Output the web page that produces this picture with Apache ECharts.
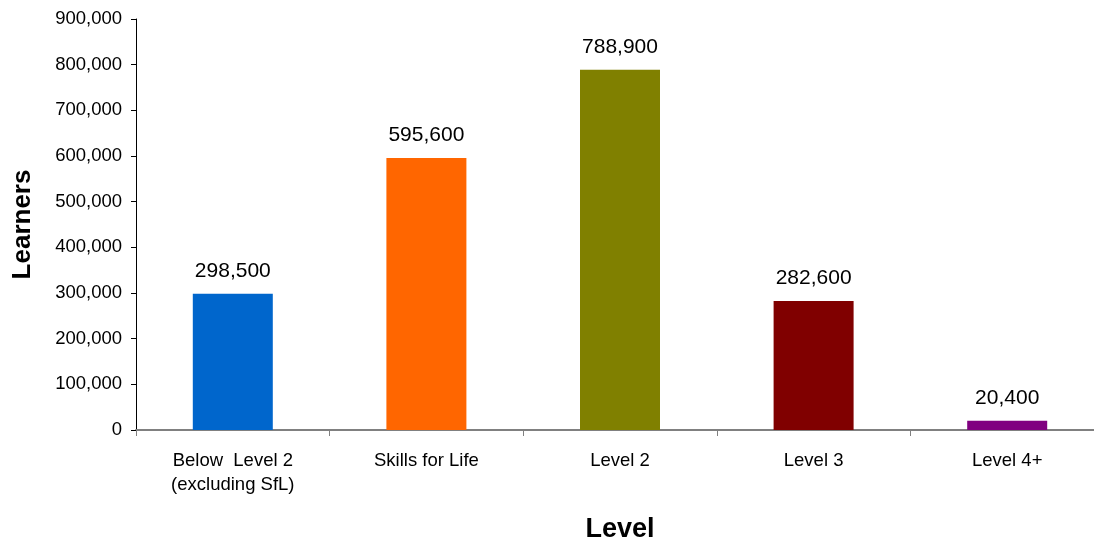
<!DOCTYPE html>
<html>
<head>
<meta charset="utf-8">
<script src="https://cdn.jsdelivr.net/npm/echarts@6/dist/echarts.min.js"></script>
<style>
  html, body { margin: 0; padding: 0; background: #fff; }
  #chart { width: 1094px; height: 542px; }
</style>
</head>
<body>
<div id="chart"></div>
<script>
var categories = ['Below  Level 2\n(excluding SfL)', 'Skills for Life', 'Level 2', 'Level 3', 'Level 4+'];
var learners = [298500, 595600, 788900, 282600, 20400];
var barColors = ['#0066cc', '#ff6600', '#808000', '#800000', '#800080'];

var chart = echarts.init(document.getElementById('chart'));

var fmt = function (v) {
  return String(v).replace(/\B(?=(\d{3})+(?!\d))/g, ',');
};

var option = {
  animation: false,
  textStyle: { fontFamily: 'Liberation Sans, Arial, sans-serif' },
  grid: { left: 136, right: -10, top: 19, bottom: 112, containLabel: false, outerBoundsMode: 'none' },
  xAxis: {
    type: 'category',
    data: categories,
    name: 'Level',
    nameLocation: 'middle',
    nameGap: 86,
    nameTextStyle: { fontSize: 27, fontWeight: 'bold', color: '#000' },
    axisLine: { lineStyle: { color: '#808080', width: 2 } },
    axisTick: { show: true, length: 6, lineStyle: { color: '#808080' } },
    axisLabel: { color: '#000', fontSize: 18.5, margin: 19, lineHeight: 24 }
  },
  yAxis: {
    type: 'value',
    min: 0,
    max: 900000,
    interval: 100000,
    name: 'Learners',
    nameLocation: 'middle',
    nameGap: 100,
    nameTextStyle: { fontSize: 26, fontWeight: 'bold', color: '#000' },
    axisLine: { show: true, lineStyle: { color: '#000', width: 1 } },
    axisTick: { show: true, length: 5, lineStyle: { color: '#000' } },
    splitLine: { show: false },
    axisLabel: { color: '#000', fontSize: 18.5, margin: 14, formatter: fmt }
  },
  series: [{
    type: 'bar',
    barWidth: 80,
    data: learners.map(function (v, i) {
      return { value: v, itemStyle: { color: barColors[i] } };
    }),
    label: {
      show: true,
      position: 'top',
      distance: 12,
      color: '#000',
      fontSize: 21,
      formatter: function (p) { return fmt(p.value); }
    }
  }]
};

chart.setOption(option);
</script>
</body>
</html>
